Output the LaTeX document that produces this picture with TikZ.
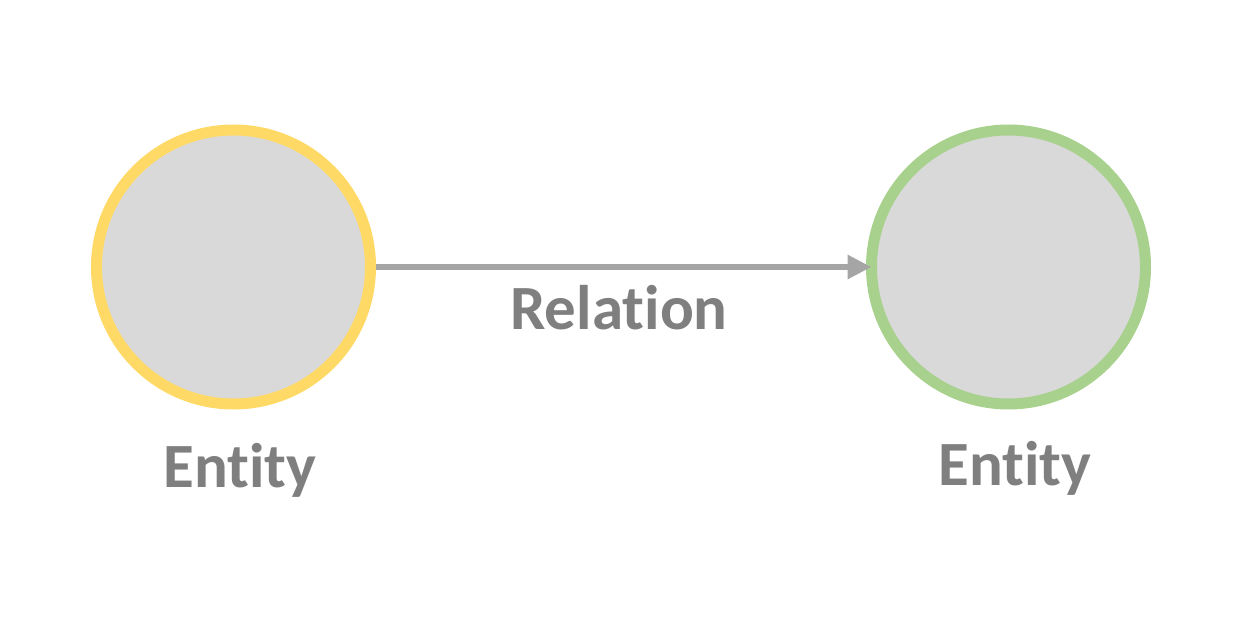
\documentclass[tikz,border=0pt]{standalone}
\usepackage{fontspec}
\setmainfont[RawFeature={-liga,-clig,-dlig}]{Carlito}
\usetikzlibrary{arrows.meta}
\definecolor{fillg}{HTML}{D9D9D9}
\definecolor{yel}{HTML}{FFD966}
\definecolor{grn}{HTML}{A9D18E}
\definecolor{arr}{HTML}{A5A5A5}
\definecolor{txt}{HTML}{7F7F7F}
\begin{document}
\begin{tikzpicture}[x=1pt,y=-1pt,
  entity/.style={circle,fill=fillg,line width=11pt,minimum size=274pt,inner sep=0pt},
  lbl/.style={font=\bfseries\fontsize{63}{75}\selectfont,text=txt,anchor=base,inner sep=0pt}]
\useasboundingbox (0,0) rectangle (1242,628);
\node[entity,draw=yel] (L) at (233.5,267) {};
\node[entity,draw=grn,outer sep=0pt] (R) at (1008.5,267) {};
\draw[arr,line width=6pt,-{Triangle[length=24pt,width=23pt]}] (L.east) -- (R.west);
\node[lbl] (reltext) at (619,330) {Relation};
\node[lbl] (e1) at (240,487) {Entity};
\node[lbl] (e2) at (1015,485) {Entity};
\end{tikzpicture}
\end{document}
